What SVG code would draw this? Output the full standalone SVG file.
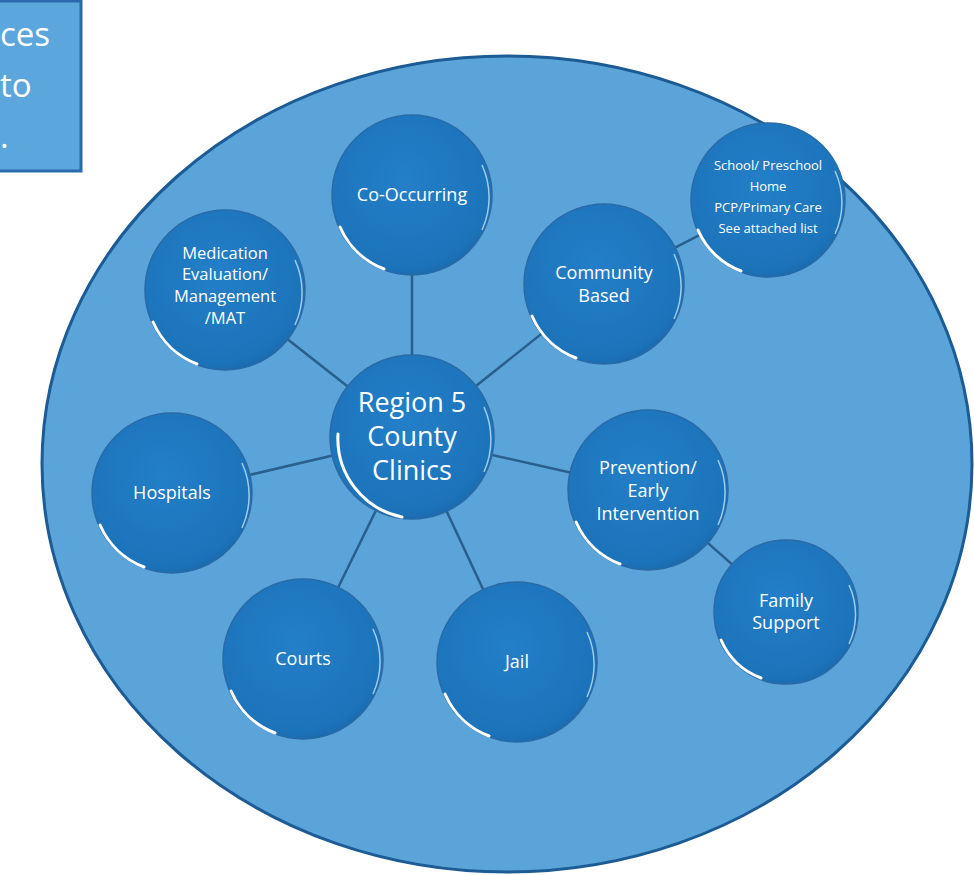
<svg xmlns="http://www.w3.org/2000/svg" width="974" height="875" viewBox="0 0 974 875">
<defs>
<radialGradient id="ng" cx="0.45" cy="0.4" r="0.65">
<stop offset="0" stop-color="#237fc8"/>
<stop offset="0.85" stop-color="#1c73ba"/>
<stop offset="1" stop-color="#1a66a6"/>
</radialGradient>
<style>
.node circle.b{fill:url(#ng);stroke:#2a6aa6;stroke-width:1.5}
.hl{fill:none;stroke:#ffffff;stroke-width:3;stroke-linecap:round}
.hr{fill:none;stroke:#bfe2f7;stroke-width:1.5;opacity:0.8}
.t{font-family:"Open Sans","Liberation Sans",sans-serif;fill:#ffffff;text-anchor:middle;font-size:18px}
.s{font-size:16.5px}
.xs{font-size:13px}
.big{font-family:"Open Sans","Liberation Sans",sans-serif;fill:#ffffff;font-size:33px}
.conn line{stroke:#2a5f8c;stroke-width:2.5}
</style>
</defs>
<rect width="974" height="875" fill="#ffffff"/>
<ellipse cx="507" cy="464" rx="465" ry="408" fill="#5ba4da" stroke="#1d5b95" stroke-width="3"/>
<g id="box">
<rect x="-5" y="1" width="86" height="170" fill="#5ba6dc" stroke="#2a6aad" stroke-width="3"/>
<text class="big" x="0" y="46">ces</text>
<text class="big" x="0" y="97">to</text>
<text class="big" x="0" y="148">.</text>
</g>
<g class="conn">
<line x1="412" y1="437" x2="412" y2="195"/>
<line x1="412" y1="437" x2="604" y2="284"/>
<line x1="604" y1="284" x2="768" y2="200"/>
<line x1="412" y1="437" x2="225" y2="290"/>
<line x1="412" y1="437" x2="172" y2="493"/>
<line x1="412" y1="437" x2="648" y2="490"/>
<line x1="648" y1="490" x2="786" y2="612"/>
<line x1="412" y1="437" x2="303" y2="659"/>
<line x1="412" y1="437" x2="517" y2="662"/>
</g>
<g id="co-occurring" class="node" transform="translate(412,195)">
<circle class="b" r="80"/>
<path class="hl" d="M-72,32 A79,79 0 0 0 -28,74"/>
<path class="hr" d="M70,-30 A78,78 0 0 1 70,35"/>
<text class="t" y="6">Co-Occurring</text>
</g>
<g id="community" class="node" transform="translate(604,284)">
<circle class="b" r="80"/>
<path class="hl" d="M-72,32 A79,79 0 0 0 -28,74"/>
<path class="hr" d="M70,-30 A78,78 0 0 1 70,35"/>
<text class="t" y="-5">Community</text>
<text class="t" y="18">Based</text>
</g>
<g id="school" class="node" transform="translate(768,200)">
<circle class="b" r="77"/>
<path class="hl" d="M-70,30 A76,76 0 0 0 -27,71"/>
<path class="hr" d="M67,-29 A75,75 0 0 1 67,34"/>
<text class="t xs" y="-30">School/ Preschool</text>
<text class="t xs" y="-9">Home</text>
<text class="t xs" y="12">PCP/Primary Care</text>
<text class="t xs" y="33">See attached list</text>
</g>
<g id="medication" class="node" transform="translate(225,290)">
<circle class="b" r="80"/>
<path class="hl" d="M-72,32 A79,79 0 0 0 -28,74"/>
<path class="hr" d="M70,-30 A78,78 0 0 1 70,35"/>
<text class="t s" y="-31">Medication</text>
<text class="t s" y="-10">Evaluation/</text>
<text class="t s" y="12">Management</text>
<text class="t s" y="34">/MAT</text>
</g>
<g id="region5" class="node" transform="translate(412,437)">
<circle class="b" r="82"/>
<path class="hl" d="M-74,-3 A80,80 0 0 0 -10,80"/>
<path class="hr" d="M72,-30 A80,80 0 0 1 72,35"/>
<text class="t" y="-25" style="font-size:27px">Region 5</text>
<text class="t" y="9" style="font-size:27px">County</text>
<text class="t" y="43" style="font-size:27px">Clinics</text>
</g>
<g id="hospitals" class="node" transform="translate(172,493)">
<circle class="b" r="80"/>
<path class="hl" d="M-72,32 A79,79 0 0 0 -28,74"/>
<path class="hr" d="M70,-30 A78,78 0 0 1 70,35"/>
<text class="t" y="6">Hospitals</text>
</g>
<g id="prevention" class="node" transform="translate(648,490)">
<circle class="b" r="80"/>
<path class="hl" d="M-72,32 A79,79 0 0 0 -28,74"/>
<path class="hr" d="M70,-30 A78,78 0 0 1 70,35"/>
<text class="t" y="-16">Prevention/</text>
<text class="t" y="7">Early</text>
<text class="t" y="30">Intervention</text>
</g>
<g id="family" class="node" transform="translate(786,612)">
<circle class="b" r="72"/>
<path class="hl" d="M-65,28 A71,71 0 0 0 -25,66"/>
<path class="hr" d="M63,-27 A70,70 0 0 1 63,32"/>
<text class="t" y="-5">Family</text>
<text class="t" y="17">Support</text>
</g>
<g id="courts" class="node" transform="translate(303,659)">
<circle class="b" r="80"/>
<path class="hl" d="M-72,32 A79,79 0 0 0 -28,74"/>
<path class="hr" d="M70,-30 A78,78 0 0 1 70,35"/>
<text class="t" y="6">Courts</text>
</g>
<g id="jail" class="node" transform="translate(517,662)">
<circle class="b" r="80"/>
<path class="hl" d="M-72,32 A79,79 0 0 0 -28,74"/>
<path class="hr" d="M70,-30 A78,78 0 0 1 70,35"/>
<text class="t" y="6">Jail</text>
</g>
</svg>
